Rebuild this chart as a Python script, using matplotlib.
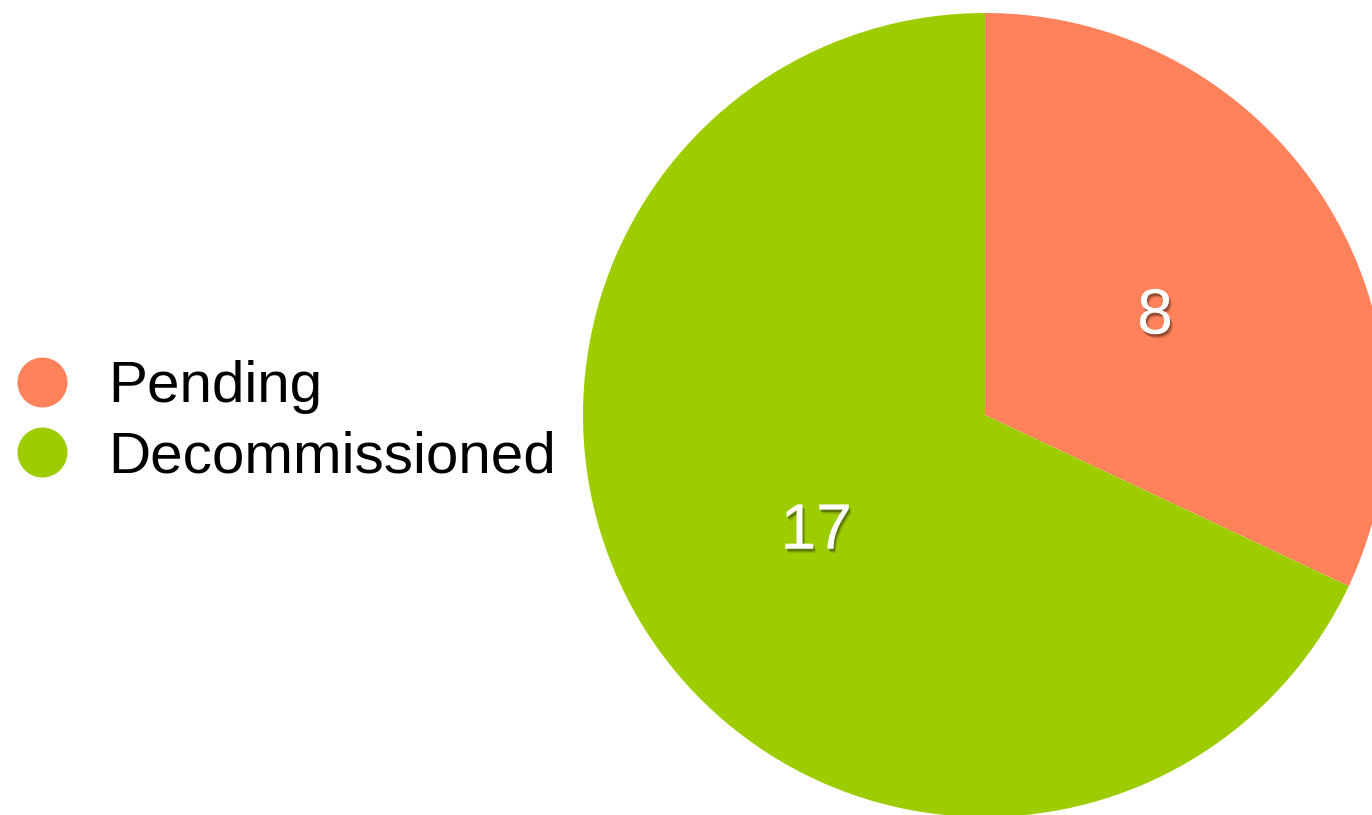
import matplotlib.pyplot as plt
import matplotlib.patheffects as pe
from matplotlib.lines import Line2D

# data
labels = ['Pending', 'Decommissioned']
values = [8, 17]
colors = ['#FF825B', '#9DCD00']

W, H = 1372, 815
fig = plt.figure(figsize=(W / 100, H / 100), dpi=100)

# pie centre (985, 415 from top), radius 402 px
cx, cy, r = 985, H - 415, 402
ax = fig.add_axes([(cx - r) / W, (cy - r) / H, 2 * r / W, 2 * r / H])
wedges, texts, autotexts = ax.pie(values, colors=colors, startangle=90,
                                  counterclock=False, radius=1,
                                  autopct=lambda p: '%d' % round(p * sum(values) / 100),
                                  pctdistance=0.5,
                                  wedgeprops=dict(linewidth=0))
ax.set_xlim(-1, 1)
ax.set_ylim(-1, 1)
ax.axis('off')

autotexts[0].set_position((0.423, 0.245))
autotexts[1].set_position((-0.42, -0.29))
for t in autotexts:
    t.set_color('white')
    t.set_fontsize(46)
    t.set_fontfamily('Liberation Sans')
    t.set_path_effects([pe.withSimplePatchShadow(offset=(1, -2), alpha=0.3,
                                                 shadow_rgbFace='black'),
                        pe.withSimplePatchShadow(offset=(2, -3), alpha=0.15,
                                                 shadow_rgbFace='black')])

handles = [Line2D([], [], marker='o', linestyle='none', markersize=36,
                  markerfacecolor=c, markeredgewidth=0) for c in colors]
fig.legend(handles, labels, loc='center left', bbox_to_anchor=(17 / W, 392.5 / H),
           frameon=False, prop={'family': 'Liberation Sans', 'size': 42},
           handlelength=0.86, handletextpad=0.7, borderpad=0, borderaxespad=0,
           labelspacing=0.28)

plt.savefig('out.png', dpi=100)
